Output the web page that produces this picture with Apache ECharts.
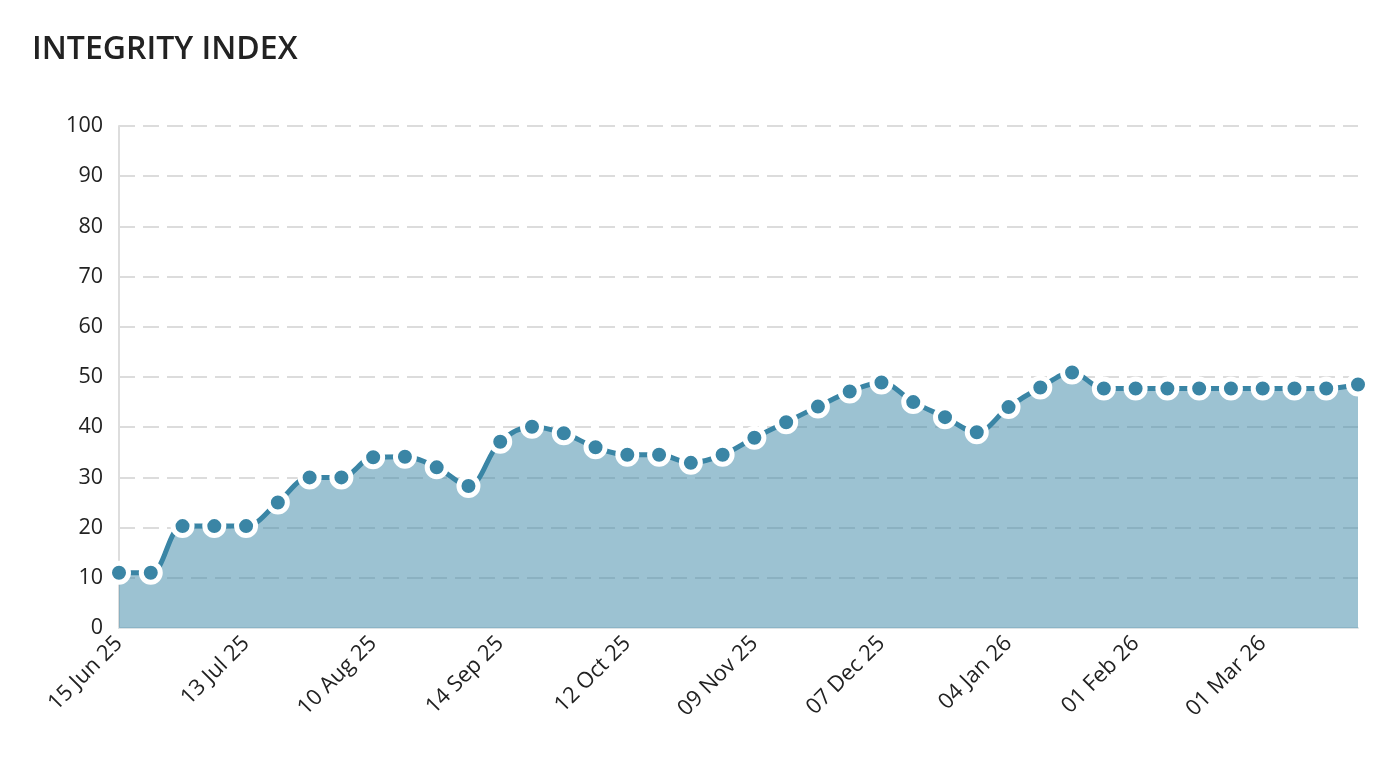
<!DOCTYPE html>
<html>
<head>
<meta charset="utf-8">
<title>Integrity Index</title>
<script src="https://cdn.jsdelivr.net/npm/echarts@6/dist/echarts.min.js"></script>
<style>
  html, body { margin: 0; padding: 0; background: #fff; }
  #chart { width: 1392px; height: 772px; }
</style>
</head>
<body>
<div id="chart"></div>
<script>
// weekly dates (category axis)
var dates = [
  '15 Jun 25', '22 Jun 25', '29 Jun 25', '06 Jul 25', '13 Jul 25', '20 Jul 25', '27 Jul 25', '03 Aug 25',
  '10 Aug 25', '17 Aug 25', '24 Aug 25', '07 Sep 25', '14 Sep 25', '21 Sep 25', '28 Sep 25', '05 Oct 25',
  '12 Oct 25', '19 Oct 25', '26 Oct 25', '02 Nov 25', '09 Nov 25', '16 Nov 25', '23 Nov 25', '30 Nov 25',
  '07 Dec 25', '14 Dec 25', '21 Dec 25', '28 Dec 25', '04 Jan 26', '11 Jan 26', '18 Jan 26', '25 Jan 26',
  '01 Feb 26', '08 Feb 26', '15 Feb 26', '22 Feb 26', '01 Mar 26', '08 Mar 26', '15 Mar 26', '22 Mar 26'
];

var integrity = [
  11.0, 11.0, 20.3, 20.3, 20.3, 25.0, 30.0, 30.0,
  34.0, 34.1, 32.0, 28.3, 37.1, 40.1, 38.8, 36.0,
  34.5, 34.5, 32.9, 34.5, 37.9, 41.0, 44.1, 47.1,
  48.9, 45.0, 42.0, 39.0, 44.0, 47.9, 50.9, 47.7,
  47.7, 47.7, 47.7, 47.7, 47.7, 47.7, 47.7, 48.5
];

var chart = echarts.init(document.getElementById('chart'));

var option = {
    animation: false,
    title: {
        text: 'INTEGRITY INDEX',
        left: 27,
        top: 29,
        textStyle: {
            color: '#222',
            fontFamily: 'Open Sans',
            fontWeight: 600,
            fontSize: 32
        }
    },
    grid: {
        left: 119,
        right: 34,
        top: 126,
        bottom: 144
    },
    xAxis: {
        type: 'category',
        boundaryGap: false,
        data: dates,
        axisLine: { show: true, lineStyle: { color: '#dde3e6', width: 2 } },
        axisTick: { show: false },
        axisLabel: {
            interval: 3,
            rotate: 45,
            margin: 12,
            color: '#222',
            fontFamily: 'Open Sans',
            fontSize: 22
        },
        splitLine: { show: false }
    },
    yAxis: {
        type: 'value',
        min: 0,
        max: 100,
        interval: 10,
        axisLine: { show: true, lineStyle: { color: '#ddd', width: 2 } },
        axisTick: { show: false },
        axisLabel: {
            margin: 16,
            color: '#222',
            fontFamily: 'Open Sans',
            fontSize: 21.5
        },
        splitLine: {
            show: true,
            lineStyle: { color: '#dcdcdc', width: 2, type: [16, 8] }
        }
    },
    series: [{
        type: 'line',
        data: integrity,
        smooth: 0.35,
        symbol: 'circle',
        symbolSize: 19,
        showAllSymbol: true,
        lineStyle: { color: '#3a85a5', width: 5 },
        itemStyle: { color: '#3a85a5', borderColor: '#fff', borderWidth: 5 },
        areaStyle: { color: '#3a85a5', opacity: 0.5 }
    }]
};

chart.setOption(option);
</script>
</body>
</html>
